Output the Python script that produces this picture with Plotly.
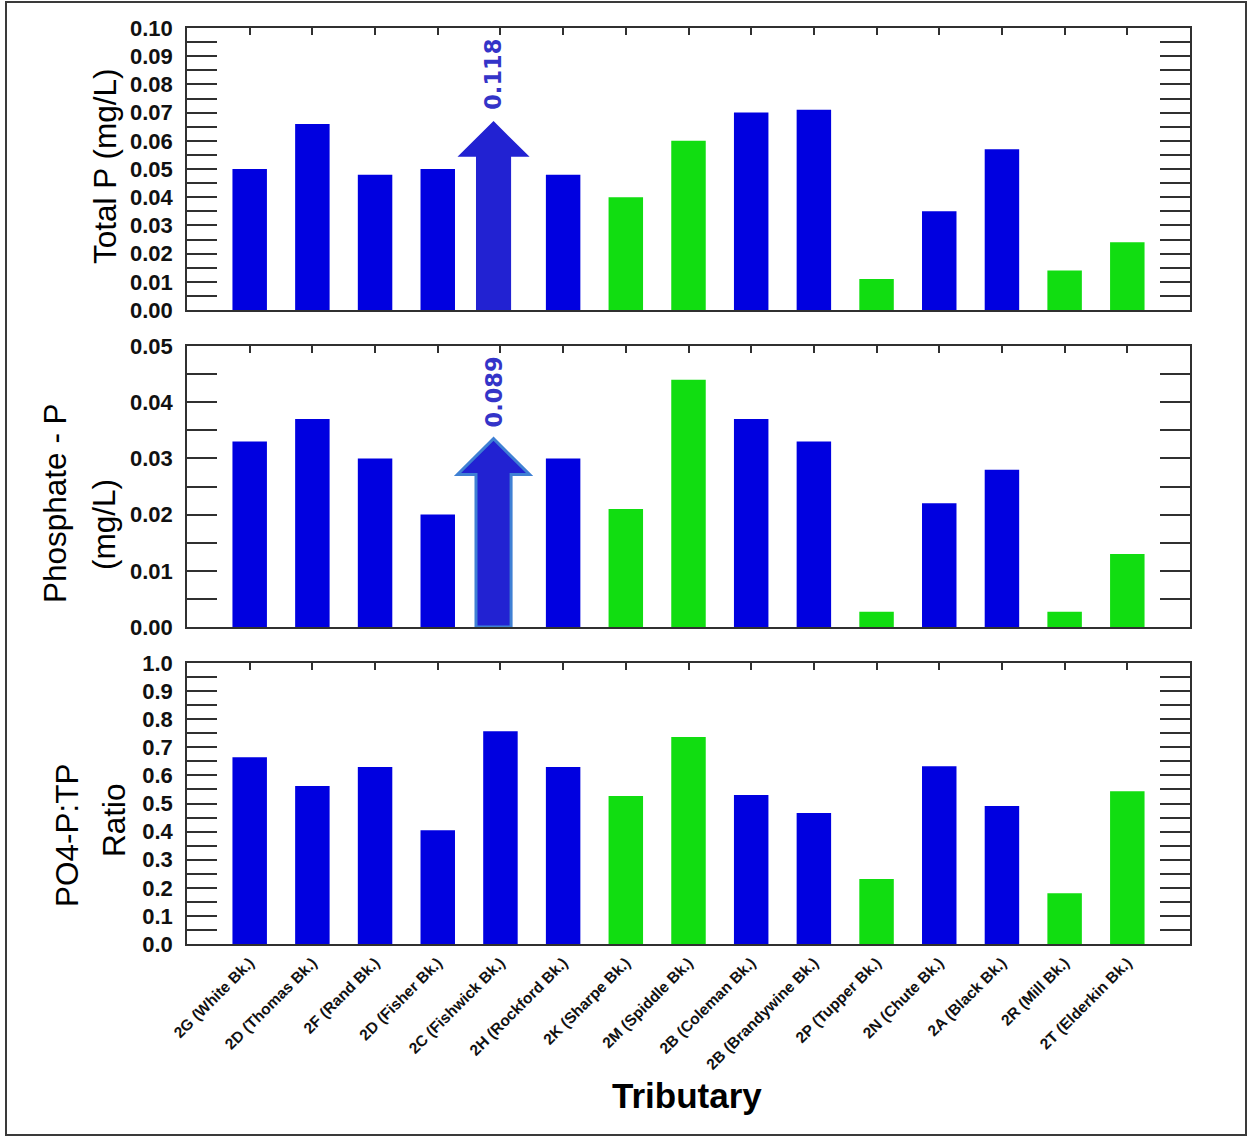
import plotly.graph_objects as go

# ---- data -------------------------------------------------------------
tributaries = [
    "2G (White Bk.)", "2D (Thomas Bk.)", "2F (Rand Bk.)", "2D (Fisher Bk.)",
    "2C (Fishwick Bk.)", "2H (Rockford Bk.)", "2K (Sharpe Bk.)",
    "2M (Spiddle Bk.)", "2B (Coleman Bk.)", "2B (Brandywine Bk.)",
    "2P (Tupper Bk.)", "2N (Chute Bk.)", "2A (Black Bk.)", "2R (Mill Bk.)",
    "2T (Elderkin Bk.)",
]
site_group = ["A", "A", "A", "A", "A", "A", "B", "B", "A", "A", "B", "A", "A", "B", "B"]

total_p = [0.050, 0.066, 0.048, 0.050, 0.118, 0.048, 0.040, 0.060,
           0.070, 0.071, 0.011, 0.035, 0.057, 0.014, 0.024]
phosphate_p = [0.033, 0.037, 0.030, 0.020, 0.089, 0.030, 0.021, 0.044,
               0.037, 0.033, 0.0027, 0.022, 0.028, 0.0027, 0.013]
po4_tp_ratio = [0.665, 0.562, 0.630, 0.405, 0.757, 0.630, 0.527, 0.737,
                0.530, 0.466, 0.231, 0.633, 0.491, 0.181, 0.544]

# ---- styling ----------------------------------------------------------
W, H = 1249, 1137
ML, MR, MT, MB = 187, 59, 28, 193
PLOT_H = H - MT - MB
PLOT_W = W - ML - MR

GROUP_COLOR = {"A": "#0000e0", "B": "#11dd11"}
ARROW_FILL = "#2222d2"
ARROW_TEXT = "#3434c8"
FONT = "Arial, Liberation Sans, sans-serif"
AXIS_COLOR = "#303030"


def py_to_paper(py):
    return (H - MB - py) / PLOT_H


def px_to_paper(px):
    return (px - ML) / PLOT_W


panels = [
    dict(values=total_p, ymax=0.10, dtick=0.01, fmt=".2f", top=28, bottom=310,
         titles=[("Total P (mg/L)", 105, 166)], outline=None),
    dict(values=phosphate_p, ymax=0.05, dtick=0.01, fmt=".2f", top=346, bottom=627,
         titles=[("Phosphate - P", 55, 503), ("(mg/L)", 104, 525)], outline="#3f80d4"),
    dict(values=po4_tp_ratio, ymax=1.0, dtick=0.1, fmt=".1f", top=663, bottom=944,
         titles=[("PO4-P:TP", 67, 835), ("Ratio", 114, 820)], outline=None),
]

idx = list(range(len(tributaries)))
colors = [GROUP_COLOR[g] for g in site_group]

fig = go.Figure()
layout = dict(
    width=W, height=H,
    margin=dict(l=ML, r=MR, t=MT, b=MB),
    paper_bgcolor="white", plot_bgcolor="white",
    showlegend=False, bargap=0.45,
    font=dict(family=FONT, color="black"),
)
shapes, annotations = [], []

BAR_WIDTH = 0.55
ARROW_DX = -0.11
SHAFT_HALF = 0.28
HEAD_HALF = 0.575

for k, p in enumerate(panels, start=1):
    xa = "x" if k == 1 else f"x{k}"
    ya = "y" if k == 1 else f"y{k}"
    xtop = f"x{k + 3}"
    ymax = p["ymax"]
    vals = p["values"]
    bar_colors = [c if v <= ymax else "rgba(0,0,0,0)" for v, c in zip(vals, colors)]

    fig.add_trace(go.Bar(
        x=idx, y=vals, width=BAR_WIDTH, marker=dict(color=bar_colors, line=dict(width=0)),
        xaxis=xa, yaxis=ya, hovertext=tributaries, cliponaxis=True,
    ))
    # carrier trace for the top-edge category ticks
    fig.add_trace(go.Scatter(
        x=[0], y=[0], mode="markers", marker=dict(opacity=0), xaxis=xtop, yaxis=ya,
        hoverinfo="skip",
    ))

    dom = [py_to_paper(p["bottom"]), py_to_paper(p["top"])]
    layout[f"xaxis{'' if k == 1 else k}"] = dict(
        domain=[0, 1], anchor=ya, range=[-1, len(tributaries)],
        tickmode="array", tickvals=idx,
        ticktext=tributaries if k == 3 else [""] * len(idx),
        showticklabels=(k == 3), tickangle=-45, ticks="",
        tickfont=dict(family=FONT, size=15.5, color="#111111", weight="bold"),
        ticklabelstandoff=2,
        showline=True, linecolor=AXIS_COLOR, linewidth=1.5, mirror=True,
        showgrid=False, zeroline=False, fixedrange=True,
    )
    layout[f"xaxis{k + 3}"] = dict(
        overlaying=xa, anchor=ya, side="top", range=[-1, len(tributaries)],
        tickmode="array", tickvals=idx, showticklabels=False,
        ticks="inside", ticklen=7, tickwidth=1.5, tickcolor=AXIS_COLOR,
        showline=False, showgrid=False, zeroline=False,
    )
    layout[f"yaxis{'' if k == 1 else k}"] = dict(
        domain=dom, anchor=xa, range=[0, ymax],
        tickmode="linear", tick0=0, dtick=p["dtick"], tickformat=p["fmt"],
        ticks="inside", ticklen=30, tickwidth=1.5, tickcolor=AXIS_COLOR,
        minor=dict(dtick=p["dtick"] / 2, ticks="inside", ticklen=15,
                   tickwidth=1.5, tickcolor=AXIS_COLOR),
        tickfont=dict(family=FONT, size=22, color="#111111", weight="bold"),
        ticklabelstandoff=8,
        showline=True, linecolor=AXIS_COLOR, linewidth=1.5, mirror="allticks",
        showgrid=False, zeroline=False, fixedrange=True,
    )

    # off-scale values: upward arrow with the value written above it
    for i, v in enumerate(vals):
        if v <= ymax:
            continue
        c = i + ARROW_DX
        yb, yt = 0.543 * ymax, 0.67 * ymax
        path = (f"M {c - SHAFT_HALF},0 L {c - SHAFT_HALF},{yb} L {c - HEAD_HALF},{yb} "
                f"L {c},{yt} L {c + HEAD_HALF},{yb} L {c + SHAFT_HALF},{yb} "
                f"L {c + SHAFT_HALF},0 Z")
        shapes.append(dict(
            type="path", path=path, xref=xa, yref=ya, fillcolor=ARROW_FILL,
            line=dict(color=p["outline"] or ARROW_FILL, width=3 if p["outline"] else 0),
            layer="above",
        ))
        annotations.append(dict(
            x=c, y=0.703 * ymax, xref=xa, yref=ya, text=f"{v:.3f}", showarrow=False,
            textangle=-90, xanchor="center", yanchor="bottom",
            font=dict(family="DejaVu Sans, sans-serif", size=22.5, color=ARROW_TEXT,
                      weight="bold"),
        ))

    for text, tx, ty in p["titles"]:
        annotations.append(dict(
            x=px_to_paper(tx), y=py_to_paper(ty), xref="paper", yref="paper",
            text=text, showarrow=False, textangle=-90,
            xanchor="center", yanchor="middle",
            font=dict(family=FONT, size=31.5, color="black"),
        ))

annotations.append(dict(
    x=px_to_paper(687), y=py_to_paper(1095), xref="paper", yref="paper",
    text="Tributary", showarrow=False, xanchor="center", yanchor="middle",
    font=dict(family=FONT, size=35, color="black", weight="bold"),
))

# outer frame around the whole figure
shapes.append(dict(
    type="rect", xref="paper", yref="paper",
    x0=px_to_paper(6), x1=px_to_paper(1246), y0=py_to_paper(1135), y1=py_to_paper(2),
    line=dict(color="#3a3a3a", width=2), fillcolor="rgba(0,0,0,0)", layer="below",
))

layout["shapes"] = shapes
layout["annotations"] = annotations
fig.update_layout(**layout)

fig.write_html("out.html")
